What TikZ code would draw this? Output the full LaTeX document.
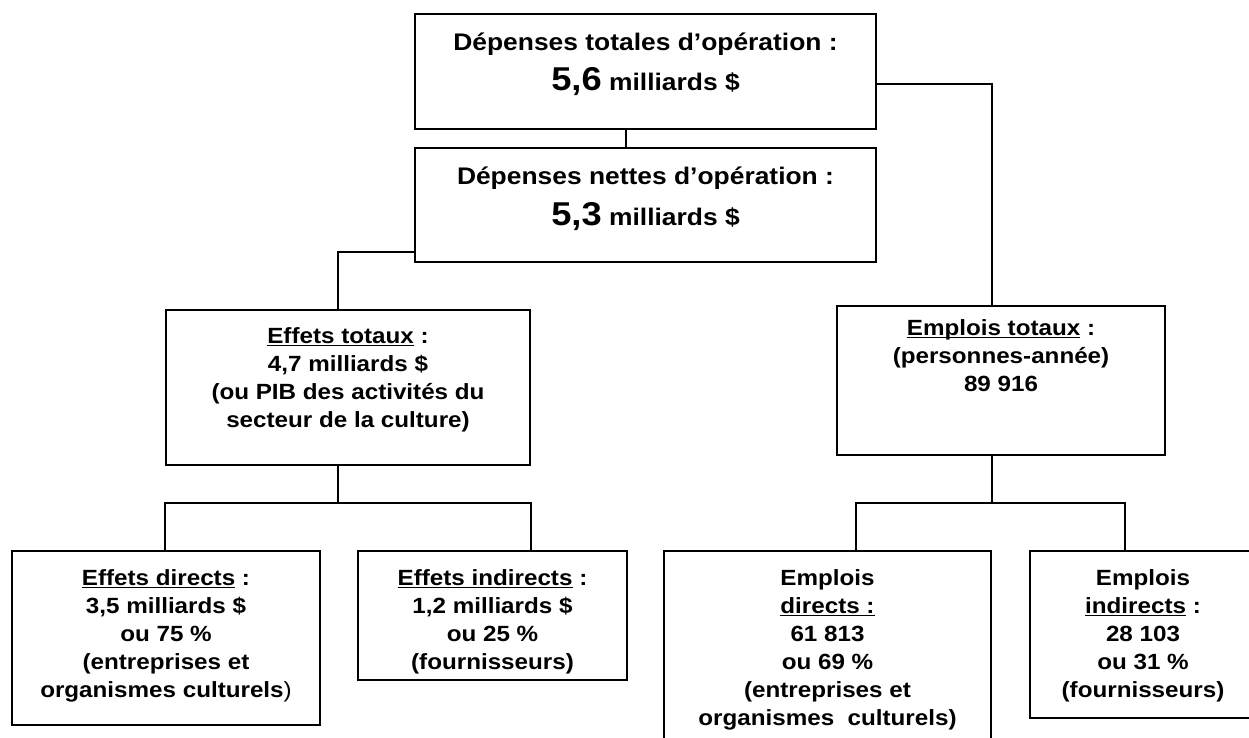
\documentclass[tikz,border=0pt]{standalone}
\usepackage{fontspec}
\setmainfont{Liberation Sans}[FakeStretch=1.1]
\newsavebox\ulbox
\newcommand\myul[1]{\sbox\ulbox{#1}\rlap{\rule[-3.2pt]{\wd\ulbox}{1.8pt}}\usebox\ulbox}
\newcommand\fst{\rule{0pt}{17pt}}
\begin{document}
\begin{tikzpicture}[x=1pt,y=1pt,
  box/.style={draw, line width=1.9pt, inner sep=0pt, outer sep=0pt},
  txt/.style={font=\bfseries\fontsize{22}{28}\selectfont, align=center, inner sep=0pt, anchor=north},
  big/.style={font=\bfseries\fontsize{24}{28}\selectfont, inner sep=0pt, anchor=base},
  num/.style={font=\bfseries\fontsize{33}{33}\selectfont},
  conn/.style={line width=1.6pt}
]
\useasboundingbox (0,0) rectangle (1249,-738);
\begin{scope}
\clip (0,0) rectangle (1249,-738);
% boxes
\node[box, minimum width=461, minimum height=115] (b1) at (645.5,-71.5) {};
\node[box, minimum width=461, minimum height=114] (b2) at (645.5,-205) {};
\node[box, minimum width=364, minimum height=155] (b3) at (348,-387.5) {};
\node[box, minimum width=328, minimum height=149] (b4) at (1001,-380.5) {};
\node[box, minimum width=308, minimum height=174] (b5) at (166,-638) {};
\node[box, minimum width=269, minimum height=129] (b6) at (492.5,-615.5) {};
\node[box, minimum width=327, minimum height=194] (b7) at (827.5,-648) {};
\node[box, minimum width=226, minimum height=167] (b8) at (1143,-634.5) {};
% helper coordinates
\coordinate (c12) at (626,0);
\coordinate (c3) at (338,0);
\coordinate (c4) at (992,0);
\coordinate (c5) at (165,0);
\coordinate (c6) at (531,0);
\coordinate (c7) at (856,0);
\coordinate (c8) at (1125,0);
\coordinate (k1) at (0,-84);
\coordinate (k2) at (0,-252);
\coordinate (k3) at (0,-503);
% connectors
\draw[conn] (c12 |- b1.south) -- (c12 |- b2.north);
\draw[conn] (b1.east |- k1) -| (c4 |- b4.north);
\draw[conn] (b2.west |- k2) -| (c3 |- b3.north);
\draw[conn] (c3 |- b3.south) -- (c3 |- k3);
\draw[conn] (c5 |- b5.north) |- (c3 |- k3) -| (c6 |- b6.north);
\draw[conn] (c4 |- b4.south) -- (c4 |- k3);
\draw[conn] (c7 |- b7.north) |- (c4 |- k3) -| (c8 |- b8.north);
% texts
\node[big] (t1a) at (645.5,-51) {Dépenses totales d’opération :};
\node[big] (t1b) at (645.5,-91) {{\fontsize{33}{33}\selectfont 5,6} milliards \$};
\node[big] (t2a) at (645.5,-185) {Dépenses nettes d’opération :};
\node[big] (t2b) at (645.5,-225) {{\fontsize{33}{33}\selectfont 5,3} milliards \$};
\node[txt] (t3) at ([yshift=-16]b3.north) {\fst\myul{Effets totaux} :\\4,7 milliards \$\\(ou PIB des activités du\\secteur de la culture)};
\node[txt] (t4) at ([yshift=-12]b4.north) {\fst\myul{Emplois totaux} :\\(personnes-année)\\89 916};
\node[txt] (t5) at ([yshift=-17]b5.north) {\fst\myul{Effets directs} :\\3,5 milliards \$\\ou 75 \%\\(entreprises et\\organismes culturels{\mdseries)}};
\node[txt] (t6) at ([yshift=-17]b6.north) {\fst\myul{Effets indirects} :\\1,2 milliards \$\\ou 25 \%\\(fournisseurs)};
\node[txt] (t7) at ([yshift=-17]b7.north) {\fst Emplois\\\myul{directs :}\\61 813\\ou 69 \%\\(entreprises et\\organismes\ \ culturels)};
\node[txt] (t8) at ([yshift=-17]b8.north) {\fst Emplois\\\myul{indirects} :\\28 103\\ou 31 \%\\(fournisseurs)};
\end{scope}
\end{tikzpicture}
\end{document}
